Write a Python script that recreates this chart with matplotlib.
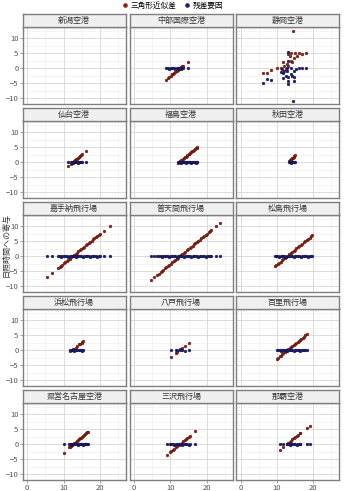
import matplotlib
matplotlib.use('Agg')
import matplotlib.pyplot as plt
from matplotlib.ticker import MultipleLocator

plt.rcParams['font.family'] = ['Noto Sans CJK JP', 'DejaVu Sans']

# panel names (row by row)
airports = ['新潟空港', '中部国際空港', '静岡空港',
            '仙台空港', '福島空港', '秋田空港',
            '嘉手納飛行場', '普天間飛行場', '松島飛行場',
            '浜松飛行場', '八戸飛行場', '百里飛行場',
            '県営名古屋空港', '三沢飛行場', '那覇空港']
legend_labels = ['三角形近似差', '残差要因']

# data: x, triangle-approx contribution, residual contribution
niigata_x = []
niigata_tri = []
niigata_res = []

chubu_x = [8.8, 9.3, 9.7, 10.1, 10.5, 10.8, 11.1, 11.4, 11.7, 12.0, 12.3, 12.6, 12.9, 13.2, 13.4, 14.8]
chubu_tri = [-3.7, -3.2, -2.8, -2.4, -2.0, -1.7, -1.4, -1.1, -0.8, -0.5, -0.2, 0.1, 0.4, 0.7, 0.9, 2.3]
chubu_res = [0.1, 0.0, -0.1, 0.0, 0.1, 0.0, 0.0, -0.1, 0.0, 0.1, 0.0, 0.0, -0.1, 0.0, 0.0, 0.1]

shizuoka_tri_x = [14.5, 6.1, 7.4, 8.3, 13.1, 13.8, 15.1, 16.1, 17.0, 17.9, 14.7, 13.8, 12.9, 12.0,
                  13.2, 12.4, 14.2, 13.6, 15.6, 11.7, 11.1, 10.1]
shizuoka_tri = [12.6, -1.5, -1.5, -0.4, 4.7, 5.3, 5.3, 5.3, 4.7, 5.3, 3.6, 2.5, 1.4, 0.9,
                0.9, -0.2, 2.0, 4.1, 4.1, 2.0, 0.3, 0.3]
shizuoka_res_x = [13.1, 13.1, 6.2, 7.4, 8.3, 14.5, 13.1, 11.5, 12.0, 11.1, 12.4, 13.2, 14.2, 14.7,
                  13.8, 15.2, 16.1, 17.0, 17.9, 14.7, 12.9, 13.8, 12.7, 11.7, 14.7, 13.2, 11.8]
shizuoka_res = [5.6, 2.5, -4.8, -3.5, -3.7, -10.7, -5.2, -0.2, -0.8, -1.3, -2.4, -3.0, -2.4, -3.0,
                -1.9, -0.2, 0.0, 0.0, 0.0, -0.8, -0.8, 0.0, 0.3, -1.5, -4.1, -4.1, -3.3]

sendai_x = [11.3, 12.1, 12.4, 12.7, 13.0, 13.2, 13.5, 13.8, 14.0, 14.3, 14.6, 14.9, 15.2, 16.3]
sendai_tri = [-1.2, -0.4, -0.1, 0.2, 0.5, 0.7, 1.0, 1.3, 1.5, 1.8, 2.1, 2.4, 2.7, 3.8]
sendai_res = [0.0, 0.1, 0.0, -0.1, 0.0, 0.0, 0.1, 0.0, -0.1, 0.0, 0.0, 0.1, 0.0, 0.0]

fukushima_x = [12.2, 12.5, 12.7, 13.0, 13.2, 13.5, 13.7, 14.0, 14.2, 14.5, 14.7,
               15.0, 15.2, 15.5, 15.7, 16.0, 16.2, 16.5, 16.7, 17.0, 17.2, 17.4]
fukushima_tri = [-0.1, 0.2, 0.4, 0.7, 0.9, 1.2, 1.4, 1.7, 1.9, 2.2, 2.4,
                 2.7, 2.9, 3.2, 3.4, 3.7, 3.9, 4.2, 4.4, 4.7, 4.9, 5.0]
fukushima_res = [0.0, 0.1, 0.0, -0.1, 0.0, 0.0, 0.1, 0.0, -0.1, 0.0, 0.0,
                 0.1, 0.0, 0.0, -0.1, 0.0, 0.0, 0.1, 0.0, -0.1, 0.0, 0.0]

akita_x = [13.4, 13.6, 13.8, 14.0, 14.2, 14.4, 14.6, 14.8, 15.1]
akita_tri = [0.4, 0.7, 0.9, 1.1, 1.4, 1.6, 1.8, 2.0, 2.4]
akita_res = [0.0, 0.1, 0.0, -0.1, 0.0, 0.0, 0.1, 0.0, 0.0]

kadena_x = [5.4, 6.9, 8.6, 8.9, 9.3, 9.7, 10.1, 10.5, 10.9, 11.3, 11.7, 12.1, 12.5, 12.9, 13.3, 13.7, 14.1,
            14.5, 14.9, 15.3, 15.7, 16.1, 16.5, 16.9, 17.3, 17.7, 18.1, 18.5, 18.9, 19.3, 19.7, 20.0, 21.0, 22.7]
kadena_tri = [-7.0, -5.5, -3.8, -3.5, -3.1, -2.7, -2.3, -1.9, -1.5, -1.1, -0.7, -0.3, 0.1, 0.5, 0.9, 1.3, 1.7,
              2.1, 2.5, 2.9, 3.3, 3.7, 4.1, 4.5, 4.9, 5.3, 5.7, 6.1, 6.5, 6.9, 7.3, 7.6, 8.6, 10.3]
kadena_res = [0.0, 0.0, 0.1, 0.0, -0.1, 0.0, 0.1, 0.0, 0.0, -0.1, 0.0, 0.1, 0.0, 0.0, -0.1, 0.0, 0.1,
              0.0, 0.0, -0.1, 0.0, 0.1, 0.0, 0.0, -0.1, 0.0, 0.1, 0.0, 0.0, -0.1, 0.0, 0.0, 0.0, 0.0]

futenma_x = [4.7, 5.5, 6.2, 6.8, 7.3, 7.7, 8.1, 8.5, 8.9, 9.3, 9.7, 10.1, 10.5, 10.9, 11.3, 11.7, 12.1,
             12.5, 12.9, 13.3, 13.7, 14.1, 14.5, 14.9, 15.3, 15.7, 16.1, 16.5, 16.9, 17.3, 17.7, 18.1,
             18.5, 18.9, 19.3, 19.7, 20.1, 20.5, 20.9, 21.3, 22.6, 23.7]
futenma_tri = [-7.8, -7.0, -6.3, -5.7, -5.2, -4.8, -4.4, -4.0, -3.6, -3.2, -2.8, -2.4, -2.0, -1.6, -1.2,
               -0.8, -0.4, 0.0, 0.4, 0.8, 1.2, 1.6, 2.0, 2.4, 2.8, 3.2, 3.6, 4.0, 4.4, 4.8, 5.2, 5.6,
               6.0, 6.4, 6.8, 7.2, 7.6, 8.0, 8.4, 8.8, 10.1, 11.2]
futenma_res = [0.0, 0.0, 0.0, 0.1, 0.0, -0.1, 0.0, 0.1, 0.0, 0.0, -0.1, 0.0, 0.1, 0.0, 0.0, -0.1, 0.0,
               0.1, 0.0, 0.0, -0.1, 0.0, 0.1, 0.0, 0.0, -0.1, 0.0, 0.1, 0.0, 0.0, -0.1, 0.0,
               0.1, 0.0, 0.0, -0.1, 0.0, 0.1, 0.0, 0.0, 0.0, 0.0]

matsushima_x = [9.4, 9.8, 10.2, 10.6, 11.0, 11.4, 11.8, 12.2, 12.6, 13.0, 13.4, 13.8, 14.2, 14.6,
                15.0, 15.4, 15.8, 16.2, 16.6, 17.0, 17.4, 17.8, 18.2, 18.6, 19.0, 19.4, 19.7]
matsushima_tri = [-3.3, -2.9, -2.5, -2.1, -1.7, -1.3, -0.9, -0.5, -0.1, 0.3, 0.7, 1.1, 1.5, 1.9,
                  2.3, 2.7, 3.1, 3.5, 3.9, 4.3, 4.7, 5.1, 5.5, 5.9, 6.3, 6.7, 7.0]
matsushima_res = [0.0, 0.1, 0.0, -0.1, 0.0, 0.0, 0.1, 0.0, -0.1, 0.0, 0.0, 0.1, 0.0, -0.1,
                  0.0, 0.0, 0.1, 0.0, -0.1, 0.0, 0.0, 0.1, 0.0, -0.1, 0.0, 0.0, 0.0]

hamamatsu_x = [11.8, 12.2, 12.6, 13.0, 13.4, 13.8, 14.3, 14.6, 15.0, 15.2, 15.4]
hamamatsu_tri = [-0.3, 0.0, 0.4, 0.6, 0.8, 1.6, 2.2, 2.3, 2.6, 2.8, 3.0]
hamamatsu_res = [0.0, 0.1, 0.0, -0.1, 0.0, 0.0, 0.1, 0.0, -0.1, 0.0, 0.0]

hachinohe_x = [10.2, 11.5, 11.8, 12.7, 13.3, 14.1, 15.2]
hachinohe_tri = [-2.2, -0.9, -0.4, 0.4, 0.8, 1.5, 2.6]
hachinohe_res = [0.0, 0.0, 0.1, 0.0, 0.0, -0.1, 0.0]

hyakuri_x = [10.1, 10.4, 10.8, 11.1, 11.5, 11.8, 12.2, 12.5, 12.9, 13.2, 13.6, 13.9,
             14.3, 14.6, 15.0, 15.3, 15.7, 16.0, 16.4, 16.7, 17.1, 17.4, 17.8, 18.2]
hyakuri_tri = [-2.7, -2.4, -2.0, -1.7, -1.3, -1.0, -0.6, -0.3, 0.1, 0.4, 0.8, 1.1,
               1.5, 1.8, 2.2, 2.5, 2.9, 3.2, 3.6, 3.9, 4.3, 4.6, 5.0, 5.4]
hyakuri_res = [0.0, 0.1, 0.0, -0.1, 0.0, 0.0, 0.1, 0.0, -0.1, 0.0, 0.0, 0.1,
               0.0, -0.1, 0.0, 0.0, 0.1, 0.0, -0.1, 0.0, 0.0, 0.1, 0.0, 0.0]

nagoya_x = [10.0, 11.5, 11.8, 12.1, 12.4, 12.7, 13.0, 13.3, 13.6, 13.9, 14.2, 14.5, 14.8, 15.1,
            15.4, 15.7, 16.0, 16.3, 16.5, 16.8]
nagoya_tri = [-2.7, -1.0, -0.7, -0.4, -0.1, 0.2, 0.5, 0.8, 1.1, 1.4, 1.7, 2.0, 2.3, 2.6,
              2.9, 3.2, 3.5, 3.8, 4.1, 4.2]
nagoya_res = [0.1, 0.0, 0.1, 0.0, -0.1, 0.0, 0.0, 0.1, 0.0, -0.1, 0.0, 0.0, 0.1, 0.0,
              -0.1, 0.0, 0.0, 0.1, 0.0, 0.0]

misawa_x = [9.0, 9.9, 10.3, 10.7, 11.1, 11.5, 11.9, 12.3, 12.7, 13.1, 13.5, 13.9, 14.3, 14.7, 15.1, 15.4, 16.8]
misawa_tri = [-3.5, -2.6, -2.2, -1.8, -1.4, -1.0, -0.6, -0.2, 0.2, 0.6, 1.0, 1.4, 1.8, 2.2, 2.6, 2.9, 4.5]
misawa_res = [0.0, 0.0, 0.1, 0.0, -0.1, 0.0, 0.0, 0.1, 0.0, -0.1, 0.0, 0.0, 0.1, 0.0, -0.1, 0.0, 0.0]

naha_x = [10.9, 11.8, 12.7, 13.1, 13.5, 13.9, 14.3, 14.7, 15.1, 15.5, 15.9, 16.3, 16.5, 18.4, 19.1]
naha_tri = [-1.9, -0.9, 0.1, 0.5, 0.9, 1.3, 1.7, 2.1, 2.5, 2.9, 3.3, 3.7, 3.9, 5.6, 6.3]
naha_res = [0.0, 0.0, 0.1, 0.0, -0.1, 0.0, 0.0, 0.1, 0.0, -0.1, 0.0, 0.0, 0.0, 0.0, 0.0]

panels = [
    (niigata_x, niigata_tri, niigata_x, niigata_res),
    (chubu_x, chubu_tri, chubu_x, chubu_res),
    (shizuoka_tri_x, shizuoka_tri, shizuoka_res_x, shizuoka_res),
    (sendai_x, sendai_tri, sendai_x, sendai_res),
    (fukushima_x, fukushima_tri, fukushima_x, fukushima_res),
    (akita_x, akita_tri, akita_x, akita_res),
    (kadena_x, kadena_tri, kadena_x, kadena_res),
    (futenma_x, futenma_tri, futenma_x, futenma_res),
    (matsushima_x, matsushima_tri, matsushima_x, matsushima_res),
    (hamamatsu_x, hamamatsu_tri, hamamatsu_x, hamamatsu_res),
    (hachinohe_x, hachinohe_tri, hachinohe_x, hachinohe_res),
    (hyakuri_x, hyakuri_tri, hyakuri_x, hyakuri_res),
    (nagoya_x, nagoya_tri, nagoya_x, nagoya_res),
    (misawa_x, misawa_tri, misawa_x, misawa_res),
    (naha_x, naha_tri, naha_x, naha_res),
]

red = '#8b2213'
blue = '#1c1f6f'
W, H = 344, 491
fig = plt.figure(figsize=(W / 100, H / 100), dpi=100)

col_left = [22.7, 129.5, 236.0]
panel_w = 103.0
row_top = [14.3, 108.3, 202.3, 296.3, 390.3]
strip_h = 12.8
panel_h = 77.0

for i, name in enumerate(airports):
    r, c = divmod(i, 3)
    x0 = col_left[c] / W
    top = row_top[r]
    ax = fig.add_axes([x0, 1 - (top + strip_h + panel_h) / H, panel_w / W, panel_h / H])
    st = fig.add_axes([x0, 1 - (top + strip_h) / H, panel_w / W, strip_h / H])

    xt, yt, xr, yr = panels[i]
    ax.scatter(xt, yt, s=4, color=red, edgecolors='#5a1208', linewidths=0.3, zorder=3)
    ax.scatter(xr, yr, s=4, color=blue, edgecolors='#10124a', linewidths=0.3, zorder=3)

    ax.set_xlim(-1.25, 27.1)
    ax.set_ylim(-11.9, 13.8)
    ax.xaxis.set_major_locator(MultipleLocator(10))
    ax.xaxis.set_minor_locator(MultipleLocator(5))
    ax.yaxis.set_major_locator(MultipleLocator(5))
    ax.yaxis.set_minor_locator(MultipleLocator(2.5))
    ax.grid(which='major', color='#d6d6d6', linewidth=0.6)
    ax.grid(which='minor', color='#ececec', linewidth=0.4)
    ax.set_axisbelow(True)
    for s in ax.spines.values():
        s.set_color('#7f7f7f')
        s.set_linewidth(1.0)
    ax.tick_params(which='major', length=2, width=0.5, color='#7f7f7f',
                   labelsize=5.5, labelcolor='#555555', pad=1)
    ax.tick_params(which='minor', length=0)
    if c != 0:
        ax.tick_params(axis='y', labelleft=False, length=0)
    if r != 4:
        ax.tick_params(axis='x', labelbottom=False, length=0)

    st.set_facecolor('#f0f0f0')
    st.set_xticks([])
    st.set_yticks([])
    for s in st.spines.values():
        s.set_color('#7f7f7f')
        s.set_linewidth(1.0)
    st.text(0.5, 0.5, name, ha='center', va='center', fontsize=5.8, color='#333333',
            transform=st.transAxes)

fig.text(5.5 / W, 1 - 245 / H, '日照時間への寄与', rotation=90, ha='center', va='center',
         fontsize=5.8, color='#333333')

handles = [
    plt.Line2D([], [], marker='o', linestyle='', markersize=2.3, color=red),
    plt.Line2D([], [], marker='o', linestyle='', markersize=2.3, color=blue),
]
fig.legend(handles, legend_labels, loc='center', bbox_to_anchor=(0.5, 1 - 5.5 / H), ncol=2,
           frameon=False, fontsize=5.5, handletextpad=0.2, columnspacing=1.0, handlelength=1.0,
           borderpad=0, borderaxespad=0)

fig.savefig('out.png', dpi=100)
